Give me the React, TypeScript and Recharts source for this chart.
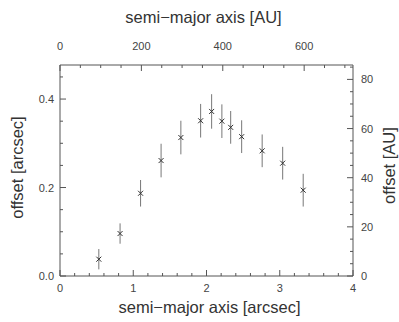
import React from 'react';
import { ScatterChart, Scatter, XAxis, YAxis, ErrorBar } from 'recharts';

// semi-major axis [arcsec], offset [arcsec], 1-sigma error [arcsec]
const sepArcsec = [0.53, 0.82, 1.1, 1.38, 1.65, 1.92, 2.07, 2.21, 2.33, 2.48, 2.76, 3.04, 3.32];
const offsetArcsec = [0.038, 0.096, 0.187, 0.261, 0.313, 0.351, 0.372, 0.35, 0.336, 0.315, 0.283, 0.255, 0.194];
const offsetErr = [0.023, 0.023, 0.03, 0.038, 0.038, 0.038, 0.039, 0.038, 0.037, 0.037, 0.037, 0.037, 0.037];

// conversion arcsec -> AU (distance in pc)
const AU_PER_ARCSEC = 180;

const bottomMajor = [0, 1, 2, 3, 4];
const bottomTicks = [0, 0.2, 0.4, 0.6, 0.8, 1, 1.2, 1.4, 1.6, 1.8, 2, 2.2, 2.4, 2.6, 2.8, 3, 3.2, 3.4, 3.6, 3.8, 4];
const topMajor = [0, 200, 400, 600];
const topTicks = [0, 50, 100, 150, 200, 250, 300, 350, 400, 450, 500, 550, 600, 650, 700];
const leftMajor = [0, 0.2, 0.4];
const leftTicks = [0, 0.05, 0.1, 0.15, 0.2, 0.25, 0.3, 0.35, 0.4, 0.45];
const rightMajor = [0, 20, 40, 60, 80];
const rightTicks = [0, 5, 10, 15, 20, 25, 30, 35, 40, 45, 50, 55, 60, 65, 70, 75, 80, 85];

const bottomDomain = [0, 4];
const leftDomain = [0, 0.477];
const topDomain = [0, 4 * AU_PER_ARCSEC];
const rightDomain = [0, 0.477 * AU_PER_ARCSEC];

const data = sepArcsec.map((x, i) => ({ x, y: offsetArcsec[i], err: offsetErr[i] }));
const dataAU = sepArcsec.map((x, i) => ({ xa: x * AU_PER_ARCSEC, ya: offsetArcsec[i] * AU_PER_ARCSEC }));

const FONT = '"Liberation Sans", Arial, Helvetica, sans-serif';
const AXIS = '#555';
const TEXT = '#444';
const MAJOR = 6;
const MINOR = 3;

const isMajor = (majors: number[], v: number) => majors.some((m) => Math.abs(m - v) < 1e-6);

const makeTick = (orient: 'bottom' | 'top' | 'left' | 'right', majors: number[], fmt: (v: number) => string) =>
  (props: any) => {
    const { x, y, payload } = props;
    const v = payload.value;
    const maj = isMajor(majors, v);
    const len = maj ? MAJOR : MINOR;
    let line: any;
    let label: any = null;
    if (orient === 'bottom') {
      line = <line x1={x} y1={y} x2={x} y2={y - len} stroke={AXIS} strokeWidth={1} />;
      if (maj) label = <text x={x} y={y + 16} textAnchor="middle" fontSize={11} fill={TEXT} fontFamily={FONT}>{fmt(v)}</text>;
    } else if (orient === 'top') {
      line = <line x1={x} y1={y} x2={x} y2={y + len} stroke={AXIS} strokeWidth={1} />;
      if (maj) label = <text x={x} y={y - 15} textAnchor="middle" fontSize={11} fill={TEXT} fontFamily={FONT}>{fmt(v)}</text>;
    } else if (orient === 'left') {
      line = <line x1={x} y1={y} x2={x + len} y2={y} stroke={AXIS} strokeWidth={1} />;
      if (maj) label = <text x={x - 6} y={y + 4} textAnchor="end" fontSize={11} fill={TEXT} fontFamily={FONT}>{fmt(v)}</text>;
    } else {
      line = <line x1={x} y1={y} x2={x - len} y2={y} stroke={AXIS} strokeWidth={1} />;
      if (maj) label = <text x={x + 8} y={y + 4} textAnchor="start" fontSize={11} fill={TEXT} fontFamily={FONT}>{fmt(v)}</text>;
    }
    return (
      <g>
        {line}
        {label}
      </g>
    );
  };

const titleStyle = { fontSize: 16.5, fill: '#333', fontFamily: FONT };

const bottomTitle = (p: any) => {
  const vb = p.viewBox || { x: 60, y: 276, width: 293, height: 46 };
  return (
    <text x={vb.x + vb.width / 2 + 3} y={vb.y + vb.height - 9} textAnchor="middle" {...titleStyle}>
      semi−major axis [arcsec]
    </text>
  );
};
const topTitle = (p: any) => {
  const vb = p.viewBox || { x: 60, y: 0, width: 293, height: 65 };
  return (
    <text x={vb.x + vb.width / 2 - 3} y={vb.y + 23} textAnchor="middle" {...titleStyle}>
      semi−major axis [AU]
    </text>
  );
};
const leftTitle = (p: any) => {
  const vb = p.viewBox || { x: 0, y: 65, width: 60, height: 211 };
  const cx = vb.x + 23;
  const cy = vb.y + vb.height / 2 - 3;
  return (
    <text x={cx} y={cy} transform={`rotate(-90, ${cx}, ${cy})`} textAnchor="middle" {...titleStyle}>
      offset [arcsec]
    </text>
  );
};
const rightTitle = (p: any) => {
  const vb = p.viewBox || { x: 353, y: 65, width: 46, height: 211 };
  const cx = vb.x + 42;
  const cy = vb.y + vb.height / 2 - 5;
  return (
    <text x={cx} y={cy} transform={`rotate(-90, ${cx}, ${cy})`} textAnchor="middle" {...titleStyle}>
      offset [AU]
    </text>
  );
};

const XMarker = (props: any) => {
  const { cx, cy } = props;
  if (cx == null || cy == null) return null;
  const s = 2.5;
  return (
    <path
      d={`M${cx - s},${cy - s}L${cx + s},${cy + s}M${cx - s},${cy + s}L${cx + s},${cy - s}`}
      stroke="#333"
      strokeWidth={1}
      fill="none"
    />
  );
};

const NoMarker = () => <g />;

export default function App() {
  return (
    <div style={{ position: 'fixed', left: 0, top: 0, width: 399, height: 322, background: '#fff' }}>
      <ScatterChart width={399} height={322} margin={{ top: 0, right: 0, bottom: 0, left: 0 }}>
        <XAxis
          xAxisId="bottom"
          orientation="bottom"
          type="number"
          dataKey="x"
          domain={bottomDomain}
          ticks={bottomTicks}
          interval={0}
          height={46}
          tickSize={0}
          tickMargin={0}
          tickLine={false}
          axisLine={{ stroke: AXIS }}
          tick={makeTick('bottom', bottomMajor, (v) => String(v))}
          label={bottomTitle}
          allowDataOverflow
        />
        <XAxis
          xAxisId="top"
          orientation="top"
          type="number"
          dataKey="xa"
          domain={topDomain}
          ticks={topTicks}
          interval={0}
          height={65}
          tickSize={0}
          tickMargin={0}
          tickLine={false}
          axisLine={{ stroke: AXIS }}
          tick={makeTick('top', topMajor, (v) => String(v))}
          label={topTitle}
          allowDataOverflow
        />
        <YAxis
          yAxisId="left"
          orientation="left"
          type="number"
          dataKey="y"
          domain={leftDomain}
          ticks={leftTicks}
          interval={0}
          width={60}
          tickSize={0}
          tickMargin={0}
          tickLine={false}
          axisLine={{ stroke: AXIS }}
          tick={makeTick('left', leftMajor, (v) => v.toFixed(1))}
          label={leftTitle}
          allowDataOverflow
        />
        <YAxis
          yAxisId="right"
          orientation="right"
          type="number"
          dataKey="ya"
          domain={rightDomain}
          ticks={rightTicks}
          interval={0}
          width={46}
          tickSize={0}
          tickMargin={0}
          tickLine={false}
          axisLine={{ stroke: AXIS }}
          tick={makeTick('right', rightMajor, (v) => String(v))}
          label={rightTitle}
          allowDataOverflow
        />
        <Scatter
          data={dataAU}
          xAxisId="top"
          yAxisId="right"
          dataKey="ya"
          shape={<NoMarker />}
          isAnimationActive={false}
        />
        <Scatter
          data={data}
          xAxisId="bottom"
          yAxisId="left"
          dataKey="y"
          shape={<XMarker />}
          isAnimationActive={false}
        >
          <ErrorBar dataKey="err" direction="y" width={0} stroke="#777" strokeWidth={1} isAnimationActive={false} />
        </Scatter>
      </ScatterChart>
    </div>
  );
}
